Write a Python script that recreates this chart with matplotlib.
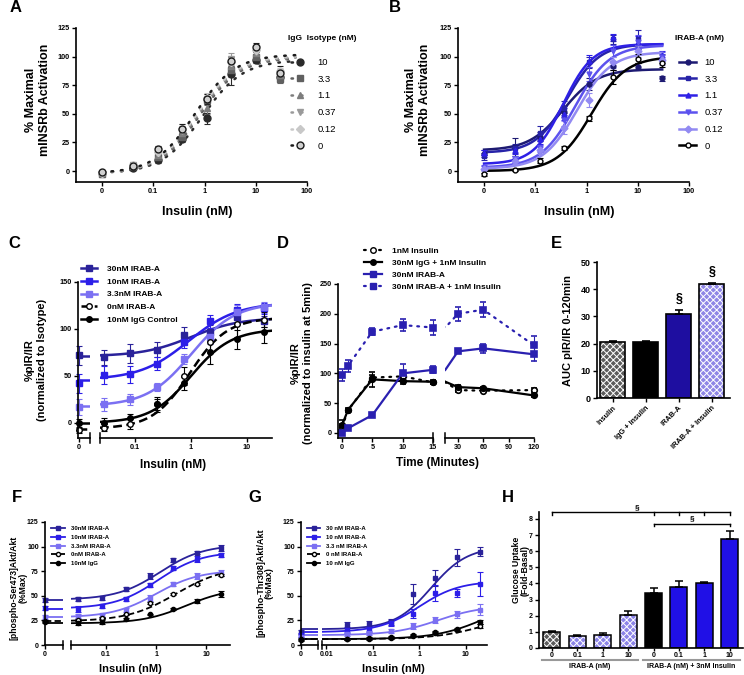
import numpy as np
import matplotlib.pyplot as plt
from matplotlib.lines import Line2D
from matplotlib.ticker import NullLocator
import matplotlib.transforms as mtrans

plt.rcParams['font.family'] = ['Liberation Sans', 'DejaVu Sans']
plt.rcParams['font.weight'] = 'bold'
plt.rcParams['axes.labelweight'] = 'bold'
plt.rcParams['hatch.linewidth'] = 0.7

# ---------------- data ----------------
# A / B: insulin (nM); 0 sits on the "0" tick of the log axis
ins_ab = [0, 0.041, 0.123, 0.37, 1.11, 3.33, 10, 30]

iso_labels = ['10', '3.3', '1.1', '0.37', '0.12', '0']
iso_y = [[-2, 3, 10, 28, 46, 85, 97, 82],
         [-3, 4, 12, 30, 62, 88, 100, 80],
         [-2, 4, 14, 33, 55, 92, 103, 84],
         [-3, 5, 16, 35, 63, 98, 104, 86],
         [-2, 5, 17, 37, 64, 95, 106, 87],
         [-1, 4, 19, 37, 63, 96, 108, 86]]
iso_err = [[2, 2, 3, 3, 5, 10, 3, 4],
           [2, 2, 3, 4, 4, 6, 4, 3],
           [2, 2, 3, 4, 5, 5, 4, 3],
           [2, 2, 3, 4, 4, 5, 4, 3],
           [2, 2, 3, 4, 4, 5, 4, 3],
           [2, 2, 3, 4, 4, 4, 4, 6]]
# 4PL fit parameters: bottom, top, EC50, hill
iso_fit = [[-2, 97, 0.9, 1.1],
           [-2, 99, 0.8, 1.1],
           [-2, 100, 0.75, 1.1],
           [-2, 100, 0.7, 1.1],
           [-2, 101, 0.7, 1.1],
           [-2, 102, 0.65, 1.1]]

irab_labels = ['10', '3.3', '1.1', '0.37', '0.12', '0']
irab_y = [[15, 21, 30, 52, 76, 92, 91, 81],
          [13, 20, 33, 55, 95, 115, 115, 98],
          [16, 18, 28, 50, 96, 117, 113, 101],
          [3, 10, 20, 45, 85, 105, 113, 100],
          [2, 9, 18, 38, 62, 95, 105, 97],
          [-3, 1, 9, 20, 46, 82, 98, 94]]
irab_err = [[3, 8, 4, 5, 5, 4, 3, 2],
            [3, 4, 6, 6, 5, 4, 8, 4],
            [2, 3, 4, 5, 5, 3, 5, 4],
            [2, 3, 3, 6, 6, 5, 6, 4],
            [2, 3, 3, 6, 6, 5, 5, 4],
            [1, 1, 2, 2, 2, 6, 4, 3]]
irab_fit = [[18, 89, 0.35, 1.3],
            [16, 111, 0.42, 1.4],
            [6, 111, 0.35, 1.5],
            [3, 110, 0.6, 1.3],
            [2, 104, 0.65, 1.3],
            [0, 100, 1.25, 1.3]]

# C
c_doses = [0, 0.0274, 0.082, 0.247, 0.74, 2.22, 6.67, 20]
c_labels = ['30nM IRAB-A', '10nM IRAB-A', '3.3nM IRAB-A', '0nM IRAB-A', '10nM IgG Control']
c_y = [[72, 70, 74, 78, 94, 97, 113, 108],
       [42, 51, 52, 63, 86, 108, 120, 122],
       [17, 20, 25, 38, 68, 92, 118, 123],
       [-8, -5, -1, 20, 50, 86, 105, 110],
       [0, 0, 5, 20, 42, 75, 89, 97]]
c_err = [[10, 8, 10, 8, 8, 7, 8, 6],
         [10, 10, 9, 7, 6, 7, 7, 6],
         [8, 7, 6, 4, 5, 8, 8, 6],
         [3, 4, 5, 6, 10, 12, 14, 8],
         [4, 5, 5, 8, 7, 12, 10, 12]]
c_fit = [[71, 112, 1.0, 1.0],
         [46, 128, 0.9, 1.0],
         [18, 128, 1.0, 1.1],
         [-6, 112, 0.95, 1.3],
         [0, 100, 1.0, 1.2]]

# D
d_time = [0, 1, 5, 10, 15, 30, 60, 120]
d_labels = ['1nM Insulin', '30nM IgG + 1nM Insulin', '30nM IRAB-A', '30nM IRAB-A + 1nM Insulin']
d_y = [[10, 38, 93, 95, 85, 72, 71, 72],
       [13, 39, 90, 87, 86, 77, 75, 63],
       [0, 8, 30, 100, 106, 137, 142, 132],
       [98, 113, 170, 181, 177, 200, 207, 147]]
d_err = [[5, 3, 5, 5, 3, 3, 3, 3],
         [8, 3, 12, 4, 3, 3, 3, 3],
         [3, 3, 3, 15, 6, 3, 8, 12],
         [10, 10, 6, 10, 12, 12, 12, 15]]

# E
e_labels = ['Insulin', 'IgG + Insulin', 'IRAB-A', 'IRAB-A + Insulin']
e_vals = [20.5, 20.5, 31.0, 42.0]
e_err = [0.4, 0.5, 1.2, 0.3]
e_sig = ['', '', '§', '§']

# F
f_doses = [0, 0.0274, 0.082, 0.247, 0.74, 2.22, 6.67, 20]
f_labels = ['30nM IRAB-A', '10nM IRAB-A', '3.3nM IRAB-A', '0nM IRAB-A', '10nM IgG']
f_y = [[46, 47, 48, 57, 70, 86, 94, 99],
       [38, 37, 40, 47, 61, 78, 87, 91],
       [28, 29, 30, 36, 48, 62, 70, 73],
       [24, 25, 27, 31, 43, 52, 62, 71],
       [23, 22, 23, 26, 31, 37, 45, 52]]
f_err = [[2, 2, 2, 2, 3, 2, 2, 3],
         [2, 3, 2, 2, 2, 2, 3, 2],
         [2, 2, 2, 2, 3, 2, 3, 3],
         [1, 1, 1, 1, 1, 1, 1, 1],
         [1, 2, 2, 1, 1, 1, 2, 3]]
f_fit = [[46, 102, 1.2, 1.0],
         [37, 95, 1.1, 1.0],
         [28, 76, 1.0, 1.0],
         [24, 80, 2.5, 0.9],
         [22, 58, 4.0, 1.0]]

# G
g_doses = [0, 0.0274, 0.082, 0.247, 0.74, 2.22, 6.67, 20]
g_labels = ['30 nM IRAB-A', '10 nM IRAB-A', '3.3 nM IRAB-A', '0 nM IRAB-A', '10 nM IgG']
g_y = [[13, 20, 21, 23, 52, 68, 89, 95],
       [10, 15, 16, 22, 32, 53, 53, 62],
       [8, 11, 12, 14, 19, 25, 31, 36],
       [6, 6, 6, 7, 9, 12, 15, 19],
       [5, 6, 7, 8, 10, 13, 16, 23]]
g_err = [[2, 3, 3, 3, 10, 8, 9, 5],
         [2, 3, 3, 3, 5, 8, 4, 12],
         [2, 2, 2, 2, 3, 3, 4, 6],
         [1, 1, 1, 1, 1, 1, 1, 2],
         [1, 1, 1, 1, 1, 1, 1, 2]]
g_fit = [[16, 100, 1.8, 1.1],
         [13, 65, 1.0, 1.0],
         [10, 40, 2.5, 0.9],
         [6, 35, 30, 0.8],
         [6, 50, 30, 0.8]]

# H
h_labels = ['0', '0.1', '1', '10', '0', '0.1', '1', '10']
h_vals = [1.0, 0.72, 0.82, 2.02, 3.42, 3.77, 4.04, 6.75]
h_err = [0.05, 0.06, 0.1, 0.3, 0.33, 0.4, 0.05, 0.5]
h_groups = ['IRAB-A (nM)', 'IRAB-A (nM) + 3nM Insulin']

# ---------------- figure ----------------
W, H = 744, 675
fig = plt.figure(figsize=(W / 100, H / 100), dpi=100)

navy = '#1d1a72'
blue30 = '#2a229a'
bright = '#2c1ee8'
lav = '#7b70f2'
dblue = '#2a20b0'


def box(x0, y0, x1, y1):
    return fig.add_axes([x0 / W, 1 - y1 / H, (x1 - x0) / W, (y1 - y0) / H])


def ftext(x, y, s, **kw):
    fig.text(x / W, 1 - y / H, s, **kw)


def style(ax, fs=5.2, left=True):
    ax.spines['top'].set_visible(False)
    ax.spines['right'].set_visible(False)
    ax.spines['left'].set_visible(left)
    ax.spines['left'].set_linewidth(1.2)
    ax.spines['bottom'].set_linewidth(1.2)
    ax.tick_params(labelsize=fs, width=1.0, length=3, pad=1.5)
    if not left:
        ax.tick_params(axis='y', left=False, labelleft=False)
    ax.patch.set_alpha(0)


def fit4(x, p):
    b, t, ec, h = p
    return b + (t - b) / (1 + (ec / x) ** h)


def breakmark(ax, side):
    ax.plot([side, side], [-0.03, 0.03], transform=ax.transAxes, color='black',
            lw=1.1, clip_on=False)


def dose_panel(axl, axr, doses, ys, errs, fits, cols, mks, mfcs, lss, lw, ms, xr, xl):
    d = np.array(doses, dtype=float)
    xx = np.logspace(np.log10(xr[0]), np.log10(xr[1]), 200)
    for y, e, p, c, m, mf, ls in zip(ys, errs, fits, cols, mks, mfcs, lss):
        y = np.array(y, dtype=float)
        axr.plot(xx, fit4(xx, p), color=c, lw=lw, ls=ls)
        axr.errorbar(d[1:], y[1:], yerr=e[1:], fmt=m, color=c, mfc=mf, mec=c, ms=ms,
                     elinewidth=0.8, capsize=2, capthick=0.8)
        axl.plot(xl, [p[0], p[0]], color=c, lw=lw, ls=ls)
        axl.errorbar(d[:1], y[:1], yerr=e[:1], fmt=m, color=c, mfc=mf, mec=c, ms=ms,
                     elinewidth=0.8, capsize=2, capthick=0.8, clip_on=False)


# ---- A ----
axA = box(76, 28, 307, 182)
style(axA)
xs_ab = np.where(np.array(ins_ab) == 0, 0.01, ins_ab)
iso_col = ['#2a2a2a', '#606060', '#7d7d7d', '#9a9a9a', '#c8c8c8', '#1a1a1a']
iso_mk = ['o', 's', '^', 'v', 'D', 'o']
iso_mfc = ['#2a2a2a', '#606060', '#7d7d7d', '#9a9a9a', '#c8c8c8', '#d0d0d0']
iso_ms = [5, 4.5, 4.5, 4.5, 4, 5]
xxA = np.logspace(-2, np.log10(60), 200)
hA = []
for y, e, p, c, m, mf, s, lab in zip(iso_y, iso_err, iso_fit, iso_col, iso_mk, iso_mfc, iso_ms, iso_labels):
    axA.plot(xxA, fit4(xxA, p), color=c, lw=1.8, ls=(0, (0.6, 3.2)), dash_capstyle='round')
    axA.errorbar(xs_ab, y, yerr=e, fmt=m, color=c, mfc=mf, mec=c, ms=s,
                 elinewidth=0.8, capsize=2, capthick=0.8)
    hA.append(Line2D([], [], color=c, lw=1.8, ls=(0, (0.6, 3.2)), dash_capstyle='round',
                     marker=m, mfc=mf, mec=c, ms=s, label=lab))
axA.set_xscale('log')
axA.set_xlim(0.0031, 100)
axA.set_ylim(-9.6, 125)
axA.set_xticks([0.01, 0.1, 1, 10, 100], ['0', '0.1', '1', '10', '100'])
axA.xaxis.set_minor_locator(NullLocator())
axA.set_yticks([0, 25, 50, 75, 100, 125])
fig.legend(handles=hA, loc='upper left', bbox_to_anchor=(291 / W, 1 - 58 / H), frameon=False,
           prop={'weight': 'normal', 'size': 6.8}, handlelength=1.8,
           handletextpad=1.0, labelspacing=0.82, borderpad=0, borderaxespad=0)
ftext(288, 38, 'IgG  Isotype (nM)', fontsize=6, ha='left', va='center')
ftext(38, 100, '% Maximal\nmINSRb Activation', fontsize=9, rotation=90, ha='center', va='center')
ftext(197, 212, 'Insulin (nM)', fontsize=9, ha='center', va='center')

# ---- B ----
axB = box(458, 28, 689, 182)
style(axB)
irab_col = [navy, '#2723a8', '#2e20e6', '#5c52ee', '#928af2', 'black']
irab_mk = ['o', 's', '^', 'v', 'D', 'o']
irab_mfc = [navy, '#2723a8', '#2e20e6', '#5c52ee', '#928af2', 'white']
xxB = np.logspace(-2, np.log10(30), 200)
hB = []
for y, e, p, c, m, mf, lab in zip(irab_y, irab_err, irab_fit, irab_col, irab_mk, irab_mfc, irab_labels):
    axB.plot(xxB, fit4(xxB, p), color=c, lw=1.8)
    axB.errorbar(xs_ab, y, yerr=e, fmt=m, color=c, mfc=mf, mec=c, ms=3.5,
                 elinewidth=0.8, capsize=2, capthick=0.8)
    hB.append(Line2D([], [], color=c, lw=1.8, marker=m, mfc=mf, mec=c, ms=3.5, label=lab))
axB.set_xscale('log')
axB.set_xlim(0.0031, 100)
axB.set_ylim(-9.6, 125)
axB.set_xticks([0.01, 0.1, 1, 10, 100], ['0', '0.1', '1', '10', '100'])
axB.xaxis.set_minor_locator(NullLocator())
axB.set_yticks([0, 25, 50, 75, 100, 125])
fig.legend(handles=hB, loc='upper left', bbox_to_anchor=(679 / W, 1 - 58 / H), frameon=False,
           prop={'weight': 'normal', 'size': 6.8}, handlelength=1.8,
           handletextpad=0.9, labelspacing=0.82, borderpad=0, borderaxespad=0)
ftext(675, 38, 'IRAB-A (nM)', fontsize=6, ha='left', va='center')
ftext(418, 100, '% Maximal\nmINSRb Activation', fontsize=9, rotation=90, ha='center', va='center')
ftext(579, 212, 'Insulin (nM)', fontsize=9, ha='center', va='center')

# ---- C ----
axC0 = box(78, 282, 90, 438)
axC = box(100, 282, 272, 438)
style(axC0)
style(axC, left=False)
c_col = [blue30, bright, lav, 'black', 'black']
c_mk = ['s', 's', 's', 'o', 'o']
c_mfc = [blue30, bright, lav, 'white', 'black']
c_ls = ['-', '-', '-', (0, (3.5, 1.8)), '-']
dose_panel(axC0, axC, c_doses, c_y, c_err, c_fit, c_col, c_mk, c_mfc, c_ls, 1.8, 4,
           (0.0237, 28), [-0.1, 1.1])
for a in (axC0, axC):
    a.set_ylim(-16, 150)
axC0.set_xlim(-0.1, 1.1)
axC0.set_xticks([0], ['0'])
axC0.set_yticks([0, 50, 100, 150])
axC.set_xscale('log')
axC.set_xlim(0.0237, 27.9)
axC.set_xticks([0.1, 1, 10], ['0.1', '1', '10'])
axC.xaxis.set_minor_locator(NullLocator())
breakmark(axC0, 1)
breakmark(axC, 0)
hC = [Line2D([], [], color=c, lw=1.8, ls=ls, marker=m, mfc=mf, mec=c, ms=4, label=l)
      for c, ls, m, mf, l in zip(c_col, c_ls, c_mk, c_mfc, c_labels)]
fig.legend(handles=hC, loc='upper left', bbox_to_anchor=(81 / W, 1 - 265 / H), frameon=False,
           prop={'weight': 'bold', 'size': 6}, handlelength=1.9, handletextpad=1.2,
           labelspacing=0.6, borderpad=0, borderaxespad=0)
ftext(36, 360, '%pIR/IR\n(normalized to Isotype)', fontsize=8, rotation=90, ha='center', va='center')
ftext(173, 465, 'Insulin (nM)', fontsize=8.5, ha='center', va='center')

# ---- D ----
axD0 = box(338, 284, 433, 438)
axD1 = box(445, 284, 534, 438)
style(axD0)
style(axD1, left=False)
t = np.array(d_time, dtype=float)
d_col = ['black', 'black', dblue, dblue]
d_mk = ['o', 'o', 's', 's']
d_mfc = ['white', 'black', dblue, dblue]
d_ls = [(0, (0.8, 2.6)), '-', '-', (0, (0.8, 2.6))]
for a, lo, hi in [(axD0, 0, 15), (axD1, 30, 120)]:
    for y, e, c, m, mf, ls in zip(d_y, d_err, d_col, d_mk, d_mfc, d_ls):
        y = np.array(y, dtype=float)
        e = np.array(e, dtype=float)
        a.plot(t, y, color=c, lw=1.6, ls=ls, dash_capstyle='round')
        k = (t >= lo) & (t <= hi)
        a.errorbar(t[k], y[k], yerr=e[k], fmt=m, color=c, mfc=mf, mec=c, ms=4,
                   mew=1.2, elinewidth=0.8, capsize=2, capthick=0.8, clip_on=False)
    a.set_ylim(-8.4, 250)
axD0.set_xlim(-0.66, 15)
axD0.set_xticks([0, 5, 10, 15])
axD0.set_yticks([0, 50, 100, 150, 200, 250])
axD1.set_xlim(14.6, 120)
axD1.set_xticks([30, 60, 90, 120])
breakmark(axD0, 1)
breakmark(axD1, 0)
hD = [Line2D([], [], color=c, lw=1.6, ls=ls, marker=m, mfc=mf, mec=c, ms=4, label=l,
             dash_capstyle='round')
      for c, ls, m, mf, l in zip(d_col, d_ls, d_mk, d_mfc, d_labels)]
fig.legend(handles=hD, loc='upper left', bbox_to_anchor=(364 / W, 1 - 247 / H), frameon=False,
           prop={'weight': 'bold', 'size': 6}, handlelength=2.2, handletextpad=1.2,
           labelspacing=0.5, borderpad=0, borderaxespad=0)
ftext(302, 363, '%pIR/IR\n(normalized to insulin at 5min)', fontsize=8, rotation=90,
      ha='center', va='center')
ftext(437, 463, 'Time (Minutes)', fontsize=8.5, ha='center', va='center')


def hbars(ax, x, vals, err, cols, hatches, width, elw):
    for xi, v, er, c, hz in zip(x, vals, err, cols, hatches):
        if hz:
            ax.bar(xi, v, width, color=c, edgecolor='white', hatch=hz, linewidth=0)
            ax.bar(xi, v, width, facecolor='none', edgecolor='black', linewidth=elw)
        else:
            ax.bar(xi, v, width, color=c, edgecolor='black', linewidth=elw)
        ax.errorbar(xi, v, yerr=[[0], [er]], fmt='none', ecolor='black', elinewidth=elw,
                    capsize=3, capthick=elw)


# ---- E ----
axE = box(597, 262, 730, 398)
style(axE, fs=6.5)
xe = np.arange(len(e_vals))
hbars(axE, xe, e_vals, e_err, ['#5c5c5c', 'black', '#1e0ea0', '#8f86e6'],
      ['xxxxx', None, None, 'xxxxx'], 0.76, 1.2)
for xi, v, er, s in zip(xe, e_vals, e_err, e_sig):
    axE.text(xi, v + er + 2, s, ha='center', va='bottom', fontsize=9)
axE.set_xlim(-0.48, 3.55)
axE.set_ylim(0, 50)
axE.set_yticks([0, 10, 20, 30, 40, 50])
axE.set_xticks(xe, e_labels, rotation=45, ha='right', rotation_mode='anchor', fontsize=5.3)
axE.tick_params(axis='x', length=3)
ftext(568, 330, 'AUC pIR/IR 0-120min', fontsize=8, rotation=90, ha='center', va='center')

# ---- F ----
axF0 = box(45, 522, 63, 645)
axF = box(71, 522, 230, 645)
style(axF0, fs=5)
style(axF, fs=5, left=False)
f_col = [blue30, bright, lav, 'black', 'black']
f_mk = ['s', 's', 's', 'o', 'o']
f_mfc = [blue30, bright, lav, 'white', 'black']
f_ls = ['-', '-', '-', (0, (3.5, 1.8)), '-']
dose_panel(axF0, axF, f_doses, f_y, f_err, f_fit, f_col, f_mk, f_mfc, f_ls, 1.3, 3,
           (0.02, 20), [0, 1])
for a in (axF0, axF):
    a.set_ylim(0, 125)
axF0.set_xlim(0, 1)
axF0.set_xticks([0], ['0'])
axF0.set_yticks([0, 25, 50, 75, 100, 125])
axF.set_xscale('log')
axF.set_xlim(0.02, 30)
axF.set_xticks([0.1, 1, 10], ['0.1', '1', '10'])
axF.xaxis.set_minor_locator(NullLocator())
breakmark(axF0, 1)
breakmark(axF, 0)
hF = [Line2D([], [], color=c, lw=1.3, ls=ls, marker=m, mfc=mf, mec=c, ms=3, label=l)
      for c, ls, m, mf, l in zip(f_col, f_ls, f_mk, f_mfc, f_labels)]
fig.legend(handles=hF, loc='upper left', bbox_to_anchor=(51 / W, 1 - 526 / H), frameon=False,
           prop={'weight': 'bold', 'size': 4.3}, handlelength=2.4, handletextpad=1.0,
           labelspacing=0.6, borderpad=0, borderaxespad=0)
ftext(19, 588, '[phospho-Ser473]Akt/Akt\n(%Max)', fontsize=6.2, rotation=90, ha='center',
      va='center', linespacing=1.0)
ftext(130, 669, 'Insulin (nM)', fontsize=8, ha='center', va='center')

# ---- G ----
axG0 = box(301, 522, 318, 645)
axG = box(322, 522, 487, 645)
style(axG0, fs=5)
style(axG, fs=5, left=False)
dose_panel(axG0, axG, g_doses, g_y, g_err, g_fit, f_col, f_mk, f_mfc, f_ls, 1.3, 3,
           (0.008, 20), [0, 1])
for a in (axG0, axG):
    a.set_ylim(0, 125)
axG0.set_xlim(0, 1)
axG0.set_xticks([0], ['0'])
axG0.set_yticks([0, 25, 50, 75, 100, 125])
axG.set_xscale('log')
axG.set_xlim(0.008, 29)
axG.set_xticks([0.01, 0.1, 1, 10], ['0.01', '0.1', '1', '10'])
axG.xaxis.set_minor_locator(NullLocator())
breakmark(axG0, 1)
breakmark(axG, 0)
hG = [Line2D([], [], color=c, lw=1.3, ls=ls, marker=m, mfc=mf, mec=c, ms=3, label=l)
      for c, ls, m, mf, l in zip(f_col, f_ls, f_mk, f_mfc, g_labels)]
fig.legend(handles=hG, loc='upper left', bbox_to_anchor=(307 / W, 1 - 526 / H), frameon=False,
           prop={'weight': 'bold', 'size': 4.3}, handlelength=2.2, handletextpad=1.0,
           labelspacing=0.6, borderpad=0, borderaxespad=0)
ftext(265, 583, '[phospho-Thr308]Akt/Akt\n(%Max)', fontsize=6.5, rotation=90, ha='center',
      va='center', linespacing=1.0)
ftext(393, 669, 'Insulin (nM)', fontsize=8, ha='center', va='center')

# ---- H ----
axH = box(539, 512, 743, 648)
style(axH, fs=5)
axH.tick_params(axis='x', length=2, pad=0.8)
xh = np.arange(len(h_vals))
hbars(axH, xh, h_vals, h_err, ['#5c5c5c', '#8c84e8', '#8c84e8', '#8c84e8',
                               'black', '#2010e6', '#2010e6', '#2010e6'],
      ['xxxxx', 'xxxxx', 'xxxxx', 'xxxxx', None, None, None, None], 0.67, 1.1)
axH.set_xlim(-0.51, 7.52)
axH.set_ylim(0, 8.43)
axH.set_yticks(range(9))
axH.set_xticks(xh, h_labels)
# significance brackets
b1, b2 = 8.4, 7.7
axH.plot([xh[0], xh[7]], [b1, b1], color='black', lw=1.0, clip_on=False)
for i in [0, 4, 5, 6, 7]:
    axH.plot([xh[i], xh[i]], [b1, b1 - 0.15], color='black', lw=1.0, clip_on=False)
axH.text((xh[0] + xh[7]) / 2 - 0.15, b1 + 0.08, '§', ha='center', va='bottom', fontsize=6)
axH.plot([xh[4], xh[7]], [b2, b2], color='black', lw=1.0, clip_on=False)
for i in [4, 7]:
    axH.plot([xh[i], xh[i]], [b2, b2 - 0.15], color='black', lw=1.0, clip_on=False)
axH.text((xh[4] + xh[7]) / 2, b2 + 0.08, '§', ha='center', va='bottom', fontsize=6)
# group labels under the axis
tr = mtrans.blended_transform_factory(axH.transData, axH.transAxes)
for g, (i0, i1) in zip(h_groups, [(0, 3), (4, 7)]):
    axH.plot([xh[i0] - 0.4, xh[i1] + 0.4], [-0.09, -0.09], transform=tr, color='#999999',
             lw=1.5, clip_on=False)
    axH.text((xh[i0] + xh[i1]) / 2, -0.11, g, transform=tr, ha='center', va='top', fontsize=5)
ftext(521, 570, 'Glucose Uptake\n(Fold-Basal)', fontsize=6.3, rotation=90, ha='center',
      va='center', linespacing=1.0)

# panel letters
for s, x, y in [('A', 16, 8), ('B', 395, 8), ('C', 14, 243), ('D', 283, 243), ('E', 556, 243),
                ('F', 17, 498), ('G', 255, 498), ('H', 508, 498)]:
    ftext(x, y, s, fontsize=12, fontweight='bold', ha='center', va='center')

fig.savefig('out.png', dpi=100)
